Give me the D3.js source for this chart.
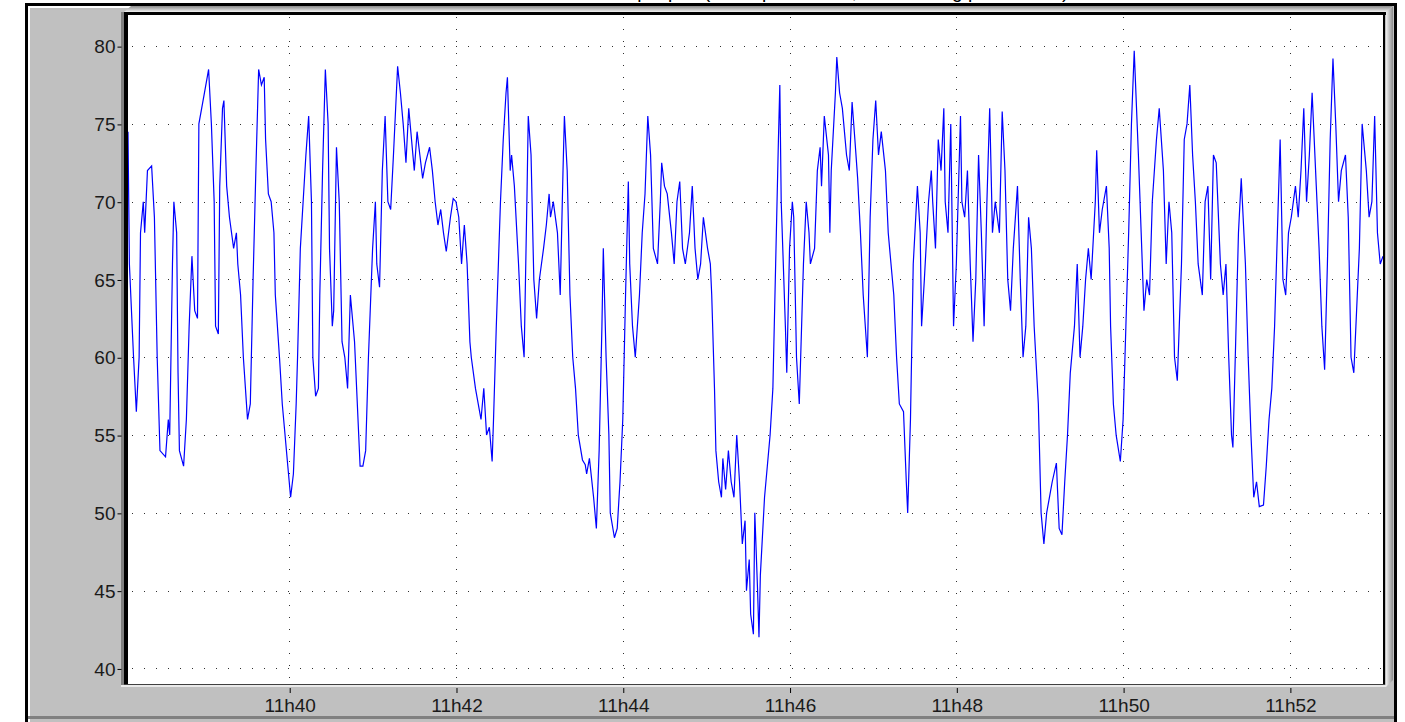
<!DOCTYPE html>
<html>
<head>
<meta charset="utf-8">
<script src="https://cdn.jsdelivr.net/npm/d3@7/dist/d3.min.js"></script>
<style>
body { margin: 0; background: #fff; overflow: hidden; }
svg { display: block; }
text { font-family: "Liberation Sans", Arial, sans-serif; }
</style>
</head>
<body>
<svg id="chart" width="1405" height="722"></svg>
<script>
// seconds after 11h38:00 and the reading at that second
var seconds = [
    4,5,8,10,12,13,15,16,18,21,
    23,25,27,31,33,34,36,37,39,40,
    41,44,46,48,50,52,54,55,57,59,
    62,64,66,67,69,70,72,73,75,77,
    80,82,83,85,87,90,92,94,96,98,
    100,102,103,105,107,109,110,113,115,117,
    119,121,123,125,126,128,130,132,134,136,
    137,139,141,142,144,146,148,149,151,152,
    154,156,158,160,162,164,167,169,171,173,
    175,177,180,182,183,185,187,189,191,193,
    195,198,200,202,204,206,208,210,212,214,
    216,218,221,223,225,227,229,231,233,236,
    238,240,242,244,246,248,250,251,254,256,
    258,260,262,264,266,267,269,272,274,276,
    277,279,280,282,285,287,289,291,292,294,
    296,298,300,303,305,307,308,310,313,315,
    317,318,320,322,324,326,328,331,333,334,
    336,339,341,343,345,346,348,350,351,354,
    356,358,360,362,364,365,367,369,372,374,
    376,378,380,382,385,387,388,390,392,395,
    397,399,401,403,405,408,410,412,414,416,
    418,421,423,424,426,427,429,431,432,434,
    436,438,440,442,444,446,448,449,451,452,
    454,455,457,458,459,462,464,466,468,470,
    472,473,474,477,478,480,482,483,485,487,
    490,492,494,495,498,500,502,503,505,508,
    509,510,513,514,516,518,521,523,525,527,
    529,531,533,536,538,540,542,544,546,549,
    551,553,555,557,559,562,564,565,567,569,
    572,574,575,577,580,582,583,585,587,589,
    591,592,594,596,598,600,603,604,606,608,
    610,612,614,616,618,620,622,624,626,628,
    631,633,635,637,639,641,644,646,648,650,
    652,654,656,659,661,663,665,667,669,672,
    674,676,678,680,682,685,687,689,691,693,
    695,697,700,701,703,705,708,710,711,713,
    715,718,720,722,724,726,728,731,733,735,
    737,739,741,744,746,749,751,753,755,757,
    759,762,764,766,768,770,772,774,777,779,
    781,783,785,787,790,792,794,796,798,799,
    801,803,805,808,810,812,814,816,818,821,
    823,825,827,829,831,833,835,837,839,841,
    844,846,848,850,852,854,856,859,861,863,
    865,867,869,871,873,875,877,880,882,884,
    886,888,890,892,895,897,899,901,903,905,907
];
var values = [
    74.5,66,60,56.5,60,68,70,68,72,72.3,
    69,60,54,53.6,56,55,66,70,68,59,
    54,53,56,62,66.5,63,62.5,75,76,77,
    78.5,75,70,62,61.5,71,76,76.5,71,69,
    67,68,66,64,60,56,57,65,72,78.5,
    77.5,78,74,70.5,70,68,64,60,57,55,
    53,51,52.5,57,60,67,70,73,75.5,70,
    60,57.5,58,64,72,78.5,75,67,62,63,
    73.5,70,61,60,58,64,61,57,53,53,
    54,60,67,70,66,64.5,72,75.5,70,69.5,
    73,78.7,77,75,72.5,76,74,72,74.5,73,
    71.5,72.5,73.5,72,70,68.5,69.5,68,66.8,69,
    70.2,70,69,66,68.5,66,61,60,58,57,
    56,58,55,55.5,53.3,56,62,70,74,77,
    78,72,73,71,66,62,60,70,75.5,73,
    65,62.5,65,67,68.5,70.5,69,70,68,64,
    72,75.5,72,64,60,58,55,53.4,53.1,52.5,
    53.5,51,49,54,62,67,60,55,50,48.4,
    49,52,56,64,71.3,66,62,60,64,68,
    70.5,75.5,73,67,66,70,72.5,71,70.5,68,
    66,70,71.3,67,66,68,71,67,65,66,
    69,67,66,64,58,54,52,51,53.5,51.5,
    54,52,51,55,52,48,49.5,45,47,43.5,
    42.2,50,45,42,46,51,53,55,58,66,
    74,77.5,70,62,59,67,70,69,60,57,
    66,70,68,66,67,72,73.5,71,75.5,73,
    68,72,77,79.3,77,76,73,72,76.4,74,
    71.5,68,64,60,69,74,76.5,73,74.5,72,
    68,66,64,60,57,56.5,52,50,56,66,
    71,68,62,65,70,72,70,67,74,72,
    76,70,68,75,62,66,75.5,70,69,72,
    66,61,65,73,68,62,70,76,68,70,
    68,75.8,72,65,63,67,71,65,60,62,
    69,67,62,57,50,48,50,51,52,53.2,
    49,48.6,52,55,59,62,66,60,62,65,
    67,65,70,73.3,68,69.5,71,67,62,57,
    55,53.3,56,62,68,75,79.7,73,68,63,
    65,64,70,74,76,72,66,70,68,60,
    58.5,66,74,75,77.5,73,70,66,64,70,
    71,65,73,72.5,66,64,66,60,55,54.2,
    61,68,71.5,66,60,55,51,52,50.4,50.5,
    53,56,58,62,68,74,65,64,68,69,
    71,69,72,76,70,73,77,71,67,62,
    59.2,66,74,79.2,75,70,72,73,69,60,
    59,63,67,75,72,69,70,75.5,68,66,66.5
];
var yTicks = [40, 45, 50, 55, 60, 65, 70, 75, 80];
var titleText = "Heart rate sample plot (beats per minute, one reading per second)";

var svg = d3.select("#chart");
var base = new Date(2000, 0, 1, 11, 38, 0);
function at(s) { return new Date(base.getTime() + s * 1000); }

var plot = { left: 128, right: 1383, top: 15, bottom: 684 };

var x = d3.scaleTime()
    .domain([at(4), at(907)])
    .range([plot.left, plot.right]);
var y = d3.scaleLinear()
    .domain([39, 82])
    .range([plot.bottom, plot.top]);

var xTicks = x.ticks(d3.timeMinute.every(2));
var fmt = d3.timeFormat("%Hh%M");

// title, mostly cut off above the window
svg.append("text")
    .attr("x", 790).attr("y", -2)
    .attr("text-anchor", "middle")
    .attr("font-size", 19)
    .text(titleText);

// outer grey panel
svg.append("rect")
    .attr("x", 28).attr("y", 6).attr("width", 1366).attr("height", 720)
    .attr("fill", "#c0c0c0");
svg.append("path")
    .attr("d", "M29,722 V7 H1393")
    .attr("fill", "none").attr("stroke", "#fff").attr("stroke-width", 2);
svg.append("rect")
    .attr("x", 28).attr("y", 716).attr("width", 1366).attr("height", 3)
    .attr("fill", "#808080");
svg.append("rect")
    .attr("x", 26.5).attr("y", 4.5).attr("width", 1369).attr("height", 740)
    .attr("fill", "none").attr("stroke", "#000").attr("stroke-width", 3);

// 3d faces on top and right of the plot box
var defs = svg.append("defs");
var gTop = defs.append("linearGradient").attr("id", "gTop")
    .attr("x1", 0).attr("y1", 0).attr("x2", 0).attr("y2", 1);
gTop.append("stop").attr("offset", "0%").attr("stop-color", "#8a8a8a");
gTop.append("stop").attr("offset", "100%").attr("stop-color", "#f2f2f2");
var gRight = defs.append("linearGradient").attr("id", "gRight")
    .attr("x1", 0).attr("y1", 0).attr("x2", 1).attr("y2", 0);
gRight.append("stop").attr("offset", "0%").attr("stop-color", "#f2f2f2");
gRight.append("stop").attr("offset", "100%").attr("stop-color", "#8a8a8a");

svg.append("path")
    .attr("d", "M124,12 L131,6 L1393,6 L1386,12 Z")
    .attr("fill", "url(#gTop)");
svg.append("path")
    .attr("d", "M1386,12 L1393,6 L1393,680 L1386,687 Z")
    .attr("fill", "url(#gRight)");

// plot area
svg.append("rect")
    .attr("x", plot.left).attr("y", plot.top)
    .attr("width", plot.right - plot.left).attr("height", plot.bottom - plot.top)
    .attr("fill", "#fff");
svg.append("rect").attr("x", 121).attr("y", 12).attr("width", 3).attr("height", 674).attr("fill", "#808080");
svg.append("rect").attr("x", 124).attr("y", 12).attr("width", 4).attr("height", 673).attr("fill", "#000");
svg.append("rect").attr("x", 124).attr("y", 12).attr("width", 1262).attr("height", 3).attr("fill", "#000");
svg.append("rect").attr("x", 1383).attr("y", 12).attr("width", 2).attr("height", 673).attr("fill", "#000");
svg.append("rect").attr("x", 124).attr("y", 684).attr("width", 1261).attr("height", 1).attr("fill", "#404040");
svg.append("rect").attr("x", 121).attr("y", 685).attr("width", 1265).attr("height", 2).attr("fill", "#eaeaea");

// dotted grid
var grid = svg.append("g")
    .attr("stroke", "#303030")
    .attr("stroke-width", 1)
    .attr("stroke-dasharray", "1,11")
    .attr("shape-rendering", "crispEdges");
grid.selectAll(".h").data(yTicks).enter().append("line")
    .attr("x1", plot.left + 4).attr("x2", plot.right)
    .attr("y1", function (d) { return Math.round(y(d)) + 0.5; })
    .attr("y2", function (d) { return Math.round(y(d)) + 0.5; });
grid.selectAll(".v").data(xTicks).enter().append("line")
    .attr("y1", plot.top + 2).attr("y2", plot.bottom)
    .attr("x1", function (d) { return Math.round(x(d)) + 0.5; })
    .attr("x2", function (d) { return Math.round(x(d)) + 0.5; });

// axes
var yAxis = d3.axisLeft(y).tickValues(yTicks).tickSize(4).tickPadding(2);
svg.append("g")
    .attr("transform", "translate(121.5,0.5)")
    .call(yAxis)
    .call(function (g) {
        g.select(".domain").remove();
        g.selectAll("text").attr("font-size", 19).attr("fill", "#1a1a1a")
            .attr("font-family", "Liberation Sans, Arial, sans-serif");
    });

var xAxis = d3.axisBottom(x).tickValues(xTicks).tickFormat(fmt).tickSize(5).tickPadding(6);
svg.append("g")
    .attr("transform", "translate(0.5,688)")
    .call(xAxis)
    .call(function (g) {
        g.select(".domain").remove();
        g.selectAll("text").attr("font-size", 19).attr("fill", "#1a1a1a")
            .attr("font-family", "Liberation Sans, Arial, sans-serif");
    });

// the series
var data = seconds.map(function (s, i) { return { t: at(s), v: values[i] }; });
console.log(seconds.length, values.length);

defs.append("clipPath").attr("id", "clip")
    .append("rect")
    .attr("x", plot.left).attr("y", plot.top)
    .attr("width", plot.right - plot.left).attr("height", plot.bottom - plot.top);

var line = d3.line()
    .x(function (d) { return x(d.t); })
    .y(function (d) { return y(d.v); });

svg.append("path")
    .datum(data)
    .attr("clip-path", "url(#clip)")
    .attr("fill", "none")
    .attr("stroke", "#0000ff")
    .attr("stroke-width", 1.2)
    .attr("stroke-linejoin", "miter")
    .attr("d", line);
</script>
</body>
</html>
